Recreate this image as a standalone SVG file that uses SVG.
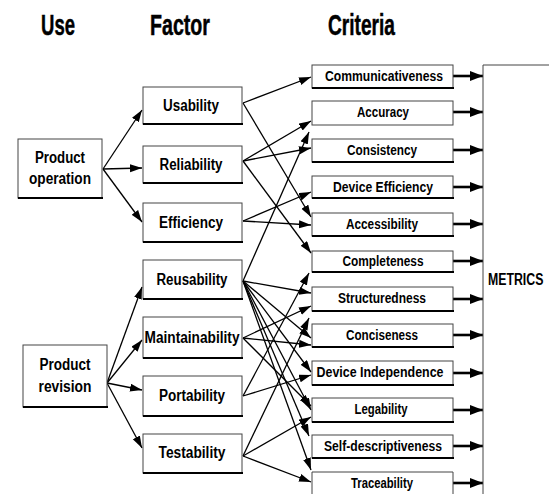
<svg xmlns="http://www.w3.org/2000/svg" width="549" height="494" viewBox="0 0 549 494">
  <style>
    .hdr { font-family: "Liberation Sans", Arial, sans-serif; font-weight: bold; font-size: 30px; fill: #000; stroke: #000; stroke-width: 0.5; }
    .lbl { font-family: "Liberation Sans", Arial, sans-serif; font-weight: bold; font-size: 16px; fill: #000; text-anchor: middle; }
    .crit { font-family: "Liberation Sans", Arial, sans-serif; font-weight: bold; font-size: 14px; fill: #000; text-anchor: middle; }
    .box { fill: #fff; stroke: #444; stroke-width: 1; }
    .shadow { stroke: #000; stroke-width: 2; fill: none; }
    .conn line { stroke: #000; stroke-width: 1.3; marker-end: url(#ah); }
    .out line { stroke: #000; stroke-width: 2.6; marker-end: url(#ahBig); }
  </style>
  <defs>
    <marker id="ah" markerUnits="userSpaceOnUse" markerWidth="13" markerHeight="9" refX="12" refY="4" orient="auto">
      <path d="M0,0 L12,4 L0,8 z" fill="#000"/>
    </marker>
    <marker id="ahBig" markerUnits="userSpaceOnUse" markerWidth="14" markerHeight="11" refX="13" refY="5" orient="auto">
      <path d="M0,0 L13,5 L0,10 z" fill="#000"/>
    </marker>
  </defs>

  <rect width="549" height="494" fill="#fff"/>

  <!-- column headings -->
  <text class="hdr" x="41" y="35" textLength="34" lengthAdjust="spacingAndGlyphs">Use</text>
  <text class="hdr" x="150" y="35" textLength="60" lengthAdjust="spacingAndGlyphs">Factor</text>
  <text class="hdr" x="328" y="35" textLength="67" lengthAdjust="spacingAndGlyphs">Criteria</text>

  <!-- connectors -->
  <g id="connectors">
    <g class="conn">
      <!-- use to factor -->
      <line x1="103" y1="169" x2="142" y2="110"/>
      <line x1="103" y1="169" x2="142" y2="168"/>
      <line x1="103" y1="169" x2="142" y2="222"/>
      <line x1="107" y1="383" x2="142" y2="287"/>
      <line x1="107" y1="383" x2="142" y2="340"/>
      <line x1="107" y1="383" x2="142" y2="390"/>
      <line x1="107" y1="383" x2="142" y2="448"/>
      <!-- factor to criteria -->
      <line x1="243" y1="103" x2="311" y2="77"/>
      <line x1="243" y1="103" x2="311" y2="217"/>
      <line x1="243" y1="161" x2="311" y2="121"/>
      <line x1="243" y1="161" x2="311" y2="148"/>
      <line x1="243" y1="161" x2="311" y2="253"/>
      <line x1="243" y1="221" x2="311" y2="192"/>
      <line x1="243" y1="221" x2="311" y2="225"/>
      <line x1="243" y1="281" x2="309" y2="132"/>
      <line x1="243" y1="281" x2="311" y2="293"/>
      <line x1="243" y1="281" x2="311" y2="338"/>
      <line x1="243" y1="281" x2="311" y2="372"/>
      <line x1="243" y1="281" x2="311" y2="410"/>
      <line x1="243" y1="281" x2="309" y2="436"/>
      <line x1="243" y1="281" x2="311" y2="470"/>
      <line x1="243" y1="338" x2="311" y2="306"/>
      <line x1="243" y1="338" x2="311" y2="345"/>
      <line x1="243" y1="338" x2="311" y2="406"/>
      <line x1="243" y1="396" x2="309" y2="273"/>
      <line x1="243" y1="396" x2="311" y2="375"/>
      <line x1="243" y1="456" x2="309" y2="318"/>
      <line x1="243" y1="456" x2="311" y2="417"/>
      <line x1="243" y1="456" x2="311" y2="482"/>
    </g>
    <g class="out">
      <line x1="453" y1="76" x2="483" y2="76"/>
      <line x1="453" y1="112" x2="483" y2="112"/>
      <line x1="453" y1="150" x2="483" y2="150"/>
      <line x1="453" y1="187" x2="483" y2="187"/>
      <line x1="453" y1="224" x2="483" y2="224"/>
      <line x1="453" y1="261" x2="483" y2="261"/>
      <line x1="453" y1="299" x2="483" y2="299"/>
      <line x1="453" y1="335" x2="483" y2="335"/>
      <line x1="453" y1="373" x2="483" y2="373"/>
      <line x1="453" y1="410" x2="483" y2="410"/>
      <line x1="453" y1="446" x2="483" y2="446"/>
      <line x1="453" y1="483" x2="483" y2="483"/>
    </g>
  </g>

  <!-- use nodes -->
  <g id="product-operation">
    <rect class="box" x="18" y="139" width="84" height="59"/>
    <line class="shadow" x1="18" y1="198" x2="103" y2="198"/>
    <text class="lbl" x="60" y="163" textLength="50" lengthAdjust="spacingAndGlyphs">Product</text>
    <text class="lbl" x="60" y="184" textLength="62" lengthAdjust="spacingAndGlyphs">operation</text>
  </g>
  <g id="product-revision">
    <rect class="box" x="23" y="345" width="84" height="62"/>
    <line class="shadow" x1="23" y1="407" x2="108" y2="407"/>
    <text class="lbl" x="65" y="370" textLength="51" lengthAdjust="spacingAndGlyphs">Product</text>
    <text class="lbl" x="65" y="392" textLength="53" lengthAdjust="spacingAndGlyphs">revision</text>
  </g>

  <!-- factor nodes -->
  <g id="usability">
    <rect class="box" x="143" y="87" width="99" height="37"/>
    <line class="shadow" x1="143" y1="124" x2="243" y2="124"/>
    <text class="lbl" x="191" y="111" textLength="56" lengthAdjust="spacingAndGlyphs">Usability</text>
  </g>
  <g id="reliability">
    <rect class="box" x="143" y="146" width="99" height="37"/>
    <line class="shadow" x1="143" y1="183" x2="243" y2="183"/>
    <text class="lbl" x="191" y="170" textLength="63" lengthAdjust="spacingAndGlyphs">Reliability</text>
  </g>
  <g id="efficiency">
    <rect class="box" x="143" y="203" width="99" height="39"/>
    <line class="shadow" x1="143" y1="242" x2="243" y2="242"/>
    <text class="lbl" x="191" y="228" textLength="64" lengthAdjust="spacingAndGlyphs">Efficiency</text>
  </g>
  <g id="reusability">
    <rect class="box" x="143" y="260" width="99" height="39"/>
    <line class="shadow" x1="143" y1="299" x2="243" y2="299"/>
    <text class="lbl" x="192" y="285" textLength="71" lengthAdjust="spacingAndGlyphs">Reusability</text>
  </g>
  <g id="maintainability">
    <rect class="box" x="143" y="317" width="99" height="41"/>
    <line class="shadow" x1="143" y1="358" x2="243" y2="358"/>
    <text class="lbl" x="192" y="343" textLength="95" lengthAdjust="spacingAndGlyphs">Maintainability</text>
  </g>
  <g id="portability">
    <rect class="box" x="143" y="376" width="99" height="40"/>
    <line class="shadow" x1="143" y1="416" x2="243" y2="416"/>
    <text class="lbl" x="192" y="401" textLength="66" lengthAdjust="spacingAndGlyphs">Portability</text>
  </g>
  <g id="testability">
    <rect class="box" x="143" y="434" width="99" height="39"/>
    <line class="shadow" x1="143" y1="473" x2="243" y2="473"/>
    <text class="lbl" x="192" y="458" textLength="67" lengthAdjust="spacingAndGlyphs">Testability</text>
  </g>

  <!-- criteria nodes -->
  <g id="communicativeness">
    <rect class="box" x="312" y="65" width="141" height="23"/>
    <line class="shadow" x1="312" y1="88" x2="454" y2="88"/>
    <text class="crit" x="384" y="81" textLength="118" lengthAdjust="spacingAndGlyphs">Communicativeness</text>
  </g>
  <g id="accuracy">
    <rect class="box" x="312" y="101" width="141" height="24"/>
    <text class="crit" x="383" y="117" textLength="52" lengthAdjust="spacingAndGlyphs">Accuracy</text>
  </g>
  <g id="consistency">
    <rect class="box" x="312" y="139" width="141" height="23"/>
    <line class="shadow" x1="312" y1="162" x2="454" y2="162"/>
    <text class="crit" x="382" y="155" textLength="70" lengthAdjust="spacingAndGlyphs">Consistency</text>
  </g>
  <g id="device-efficiency">
    <rect class="box" x="312" y="176" width="141" height="22"/>
    <line class="shadow" x1="312" y1="198" x2="454" y2="198"/>
    <text class="crit" x="383" y="192" textLength="100" lengthAdjust="spacingAndGlyphs">Device Efficiency</text>
  </g>
  <g id="accessibility">
    <rect class="box" x="312" y="213" width="141" height="23"/>
    <line class="shadow" x1="312" y1="236" x2="454" y2="236"/>
    <text class="crit" x="382" y="229" textLength="72" lengthAdjust="spacingAndGlyphs">Accessibility</text>
  </g>
  <g id="completeness">
    <rect class="box" x="312" y="251" width="141" height="21"/>
    <line class="shadow" x1="312" y1="272" x2="454" y2="272"/>
    <text class="crit" x="383" y="266" textLength="81" lengthAdjust="spacingAndGlyphs">Completeness</text>
  </g>
  <g id="structuredness">
    <rect class="box" x="312" y="287" width="141" height="24"/>
    <line class="shadow" x1="312" y1="311" x2="454" y2="311"/>
    <text class="crit" x="382" y="303" textLength="88" lengthAdjust="spacingAndGlyphs">Structuredness</text>
  </g>
  <g id="conciseness">
    <rect class="box" x="312" y="324" width="141" height="23"/>
    <line class="shadow" x1="312" y1="347" x2="454" y2="347"/>
    <text class="crit" x="382" y="340" textLength="72" lengthAdjust="spacingAndGlyphs">Conciseness</text>
  </g>
  <g id="device-independence">
    <rect class="box" x="312" y="361" width="141" height="24"/>
    <line class="shadow" x1="312" y1="385" x2="454" y2="385"/>
    <text class="crit" x="380" y="377" textLength="127" lengthAdjust="spacingAndGlyphs">Device Independence</text>
  </g>
  <g id="legability">
    <rect class="box" x="312" y="398" width="141" height="24"/>
    <line class="shadow" x1="312" y1="422" x2="454" y2="422"/>
    <text class="crit" x="381" y="414" textLength="53" lengthAdjust="spacingAndGlyphs">Legability</text>
  </g>
  <g id="self-descriptiveness">
    <rect class="box" x="312" y="435" width="141" height="23"/>
    <line class="shadow" x1="312" y1="458" x2="454" y2="458"/>
    <text class="crit" x="383" y="451" textLength="118" lengthAdjust="spacingAndGlyphs">Self-descriptiveness</text>
  </g>
  <g id="traceability">
    <path class="box" d="M312,494 V472 H453 V494"/>
    <text class="crit" x="382" y="488" textLength="62" lengthAdjust="spacingAndGlyphs">Traceability</text>
  </g>

  <!-- metrics node: open to the right and bottom edges -->
  <g id="metrics">
    <path d="M549,65 H483 V494" fill="none" stroke="#444" stroke-width="1"/>
    <text class="lbl" transform="translate(488,285) scale(0.77,1)" x="0" y="0" style="text-anchor:start">METRICS</text>
  </g>
</svg>
